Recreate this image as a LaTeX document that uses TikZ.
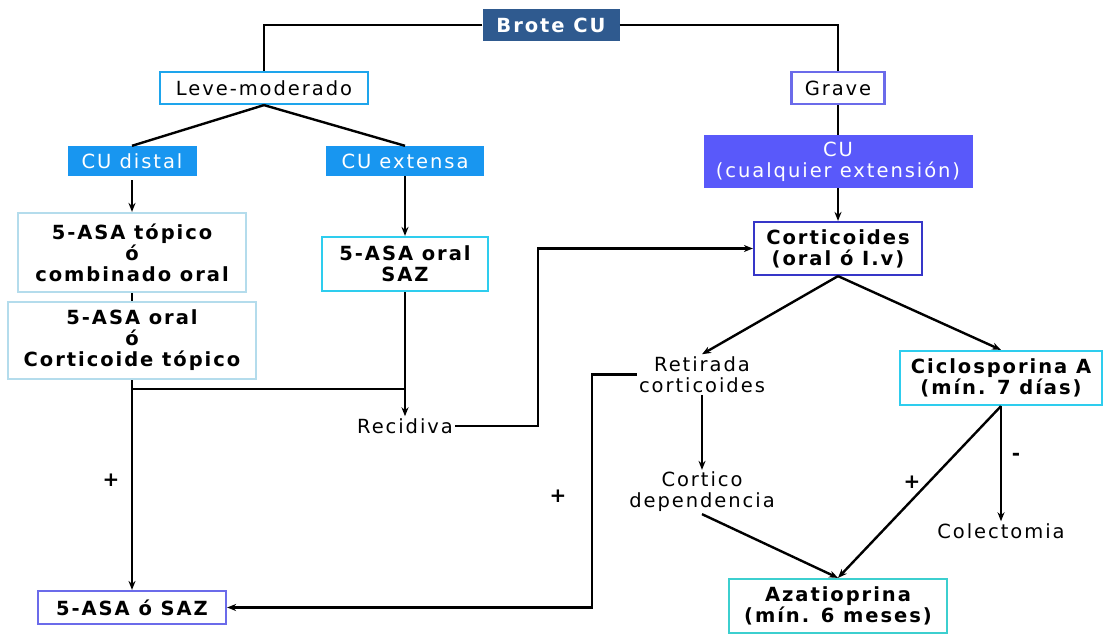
\documentclass[tikz,border=0pt]{standalone}
\usepackage{fontspec}
\setmainfont{DejaVu Sans}[LetterSpace=10]
\usetikzlibrary{arrows.meta}
\definecolor{cbrote}{HTML}{2F5A8F}
\definecolor{cazul}{HTML}{1896F0}
\definecolor{cviol}{HTML}{5959FA}
\definecolor{cleve}{HTML}{1EA5EC}
\definecolor{cgrave}{HTML}{6B6BEA}
\definecolor{ccort}{HTML}{3636C8}
\definecolor{cpale}{HTML}{B4DCEC}
\definecolor{ccyan}{HTML}{2ECDEE}
\definecolor{cturq}{HTML}{3CCFCF}
\tikzset{
  every node/.style={font=\fontsize{19.5}{21}\selectfont, align=center, inner sep=2pt},
  bf/.style={font=\fontsize{19.5}{21}\selectfont\bfseries},
  boxn/.style={draw=#1, line width=2.2pt, fill=white, inner sep=0pt},
  filln/.style={fill=#1, text=white, inner sep=0pt},
  conn/.style={line width=2.4pt, draw=black},
  arr/.style={conn, -{Stealth[length=9pt,width=7pt]}},
  sign/.style={font=\fontsize{20}{20}\selectfont\bfseries},
}
\begin{document}
\begin{tikzpicture}[x=1pt,y=-1pt]
\useasboundingbox (0,0) rectangle (1105,635);
% nodes
\node[filln=cbrote, bf, minimum width=137pt, minimum height=32pt] (brote) at (551,25) {Brote CU};
\node[boxn=cleve, minimum width=208pt, minimum height=32pt] (leve) at (264,88) {Leve-moderado};
\node[boxn=cgrave, minimum width=93pt, minimum height=32pt] (grave) at (838,88) {Grave};
\node[filln=cazul, minimum width=129pt, minimum height=30pt] (distal) at (132,161) {CU distal};
\node[filln=cazul, minimum width=158pt, minimum height=30pt] (extensa) at (405,161) {CU extensa};
\node[filln=cviol, minimum width=269pt, minimum height=53pt] (cualq) at (838,161.5) {CU\\(cualquier extensión)};
\node[boxn=ccort, bf, minimum width=168pt, minimum height=53pt] (cort) at (838,248.5) {Corticoides\\(oral ó I.v)};
\node[boxn=cpale, bf, minimum width=228pt, minimum height=79pt] (topico) at (132,252.5) {5-ASA tópico\\ó\\combinado oral};
\node[boxn=cpale, bf, minimum width=248pt, minimum height=77pt] (oralc) at (132,340.5) {5-ASA oral\\ó\\Corticoide tópico};
\node[boxn=ccyan, bf, minimum width=166pt, minimum height=54pt] (oralsaz) at (405,264) {5-ASA oral\\SAZ};
\node (recid) at (405,426) {Recidiva};
\node[boxn=cgrave, bf, minimum width=188pt, minimum height=33pt] (sazf) at (132,607.5) {5-ASA ó SAZ};
\node (retir) at (702,374.5) {Retirada\\corticoides};
\node[boxn=ccyan, bf, minimum width=202pt, minimum height=54pt] (ciclo) at (1001,378) {Ciclosporina A\\(mín. 7 días)};
\node (cdep) at (702,492) {Cortico\\dependencia};
\node (colec) at (1001,531) {Colectomia};
\node[boxn=cturq, bf, minimum width=218pt, minimum height=54pt] (aza) at (838,606) {Azatioprina\\(mín. 6 meses)};
% signs
\node[sign] (p1) at (111,480) {+};
\node[sign] (p2) at (558,496) {+};
\node[sign] (p3) at (912,482) {+};
\node[sign] (m1) at (1016,457) {-};
% junctions
\coordinate (j1) at (405,389);
\coordinate (r1) at (538,426);
\coordinate (r2) at (592,377);
% connectors
\draw[conn] (brote.west) -| (leve.north);
\draw[conn] (brote.east) -| (grave.north);
\draw[conn] (leve.south) -- (distal.north);
\draw[conn] (leve.south) -- (extensa.north);
\draw[arr] ([yshift=-4pt]distal.south) -- (topico.north);
\draw[conn] (topico.south) -- (oralc.north);
\draw[arr] (extensa.south) -- (oralsaz.north);
\draw[conn] (grave.south) -- (cualq.north);
\draw[arr] (cualq.south) -- (cort.north);
\draw[arr] (oralsaz.south) -- (recid.north);
\draw[conn] (oralc.south |- j1) -- (j1);
\draw[arr] (oralc.south) -- (sazf.north);
\draw[arr] (recid.east) -- (recid.east -| r1) |- (cort.west);
\draw[arr] (retir.west) -- (retir.west -| r2) |- (sazf.east);
\draw[arr] (cort.south) -- (retir.north);
\draw[arr] (cort.south) -- (ciclo.north);
\draw[arr] (retir.south) -- (cdep.north);
\draw[arr] (cdep.south) -- (aza.north);
\draw[arr] (ciclo.south) -- (aza.north);
\draw[arr] (ciclo.south) -- (colec.north);
\end{tikzpicture}
\end{document}
